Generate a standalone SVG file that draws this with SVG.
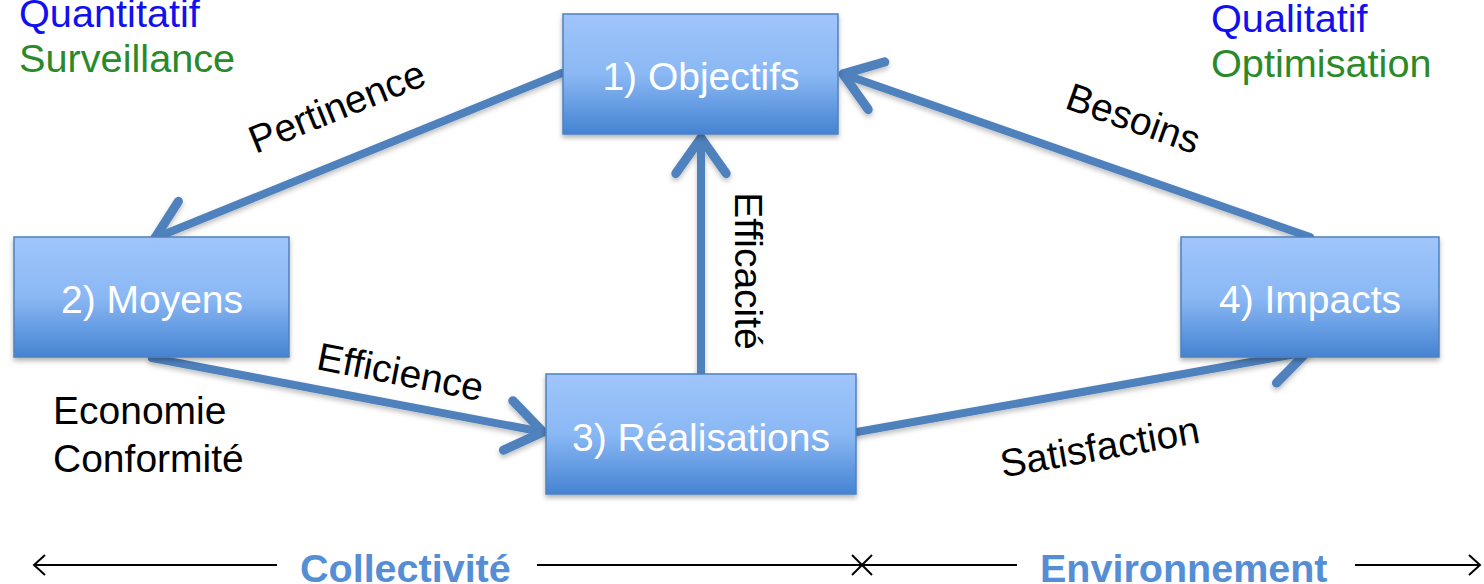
<svg xmlns="http://www.w3.org/2000/svg" width="1484" height="584" viewBox="0 0 1484 584">
<defs>
<linearGradient id="boxg" x1="0" y1="0" x2="0" y2="1">
<stop offset="0" stop-color="#a0c5fb"/>
<stop offset="0.5" stop-color="#8ab8f4"/>
<stop offset="1" stop-color="#4583d2"/>
</linearGradient>
<filter id="sh" x="-10%" y="-10%" width="120%" height="130%">
<feDropShadow dx="0" dy="3" stdDeviation="2.5" flood-color="#000" flood-opacity="0.3"/>
</filter>
<filter id="lsh" filterUnits="userSpaceOnUse" x="0" y="0" width="1484" height="584">
<feDropShadow dx="0" dy="3" stdDeviation="2.5" flood-color="#000" flood-opacity="0.25"/>
</filter>
<marker id="ah" markerUnits="userSpaceOnUse" markerWidth="80" markerHeight="80" viewBox="-45 -35 60 70" refX="0" refY="0" orient="auto" overflow="visible">
<path d="M -31 -22 L 0 0 L -31 22" fill="none" stroke="#4f81bd" stroke-width="8" stroke-linecap="round" stroke-linejoin="round"/>
</marker>
<marker id="bh" markerUnits="userSpaceOnUse" markerWidth="30" markerHeight="30" viewBox="-15 -15 30 30" refX="0" refY="0" orient="auto" overflow="visible">
<path d="M -11 -10 L 0 0 L -11 10" fill="none" stroke="#000" stroke-width="2"/>
</marker>
</defs>
<style>
.box{fill:url(#boxg);stroke:#4f81bd;stroke-width:1.5;filter:url(#sh)}
.bt{font-family:"Liberation Sans",Arial,sans-serif;font-size:39px;fill:#fff;text-anchor:middle}
.lb{font-family:"Liberation Sans",Arial,sans-serif;font-size:39px;fill:#000}
.conn{fill:none;stroke:#4f81bd;stroke-width:8;stroke-linecap:round;marker-end:url(#ah)}
.tl{fill:none;stroke:#000;stroke-width:2}
.bot{font-family:"Liberation Sans",Arial,sans-serif;font-size:39.5px;font-weight:bold;fill:#558ed5}
.blue{font-family:"Liberation Sans",Arial,sans-serif;font-size:39.7px;fill:#1010f0}
.green{font-family:"Liberation Sans",Arial,sans-serif;font-size:39.7px;fill:#2a8a2a}
</style>
<rect width="1484" height="584" fill="#fff"/>
<g id="connectors" filter="url(#lsh)">
<line class="conn" x1="562" y1="73" x2="155" y2="238"/>
<line class="conn" x1="152" y1="358" x2="543" y2="432"/>
<line class="conn" x1="701" y1="374" x2="701" y2="138"/>
<line class="conn" x1="857" y1="432" x2="1307" y2="352"/>
<line class="conn" x1="1310" y1="237" x2="843" y2="74"/>
</g>
<g id="n1"><rect class="box" x="563" y="14" width="275" height="120"/><text class="bt" x="701" y="90">1) Objectifs</text></g>
<g id="n2"><rect class="box" x="14" y="237" width="275" height="120"/><text class="bt" x="152" y="313">2) Moyens</text></g>
<g id="n3"><rect class="box" x="546" y="374" width="310" height="120"/><text class="bt" x="701" y="451">3) Réalisations</text></g>
<g id="n4"><rect class="box" x="1181" y="237" width="258" height="120"/><text class="bt" x="1310" y="313">4) Impacts</text></g>
<g id="labels">
<text class="lb" text-anchor="middle" transform="translate(342,119) rotate(-22)">Pertinence</text>
<text class="lb" text-anchor="middle" transform="translate(398,385) rotate(11)">Efficience</text>
<text class="lb" text-anchor="middle" transform="translate(735,271) rotate(90)">Efficacité</text>
<text class="lb" text-anchor="middle" transform="translate(1129,131) rotate(19.5)">Besoins</text>
<text class="lb" text-anchor="middle" transform="translate(1102,460) rotate(-10)">Satisfaction</text>
<text class="lb" x="53" y="424">Economie</text>
<text class="lb" x="53" y="472">Conformité</text>
<text class="blue" x="19" y="27">Quantitatif</text>
<text class="green" x="19" y="72">Surveillance</text>
<text class="blue" x="1211" y="32">Qualitatif</text>
<text class="green" x="1211" y="77">Optimisation</text>
</g>
<g id="timeline">
<line class="tl" x1="277" y1="565" x2="34" y2="565" marker-end="url(#bh)"/>
<line class="tl" x1="537" y1="565" x2="1017" y2="565"/>
<line class="tl" x1="852" y1="555" x2="872" y2="575"/>
<line class="tl" x1="852" y1="575" x2="872" y2="555"/>
<line class="tl" x1="1355" y1="565" x2="1480" y2="565" marker-end="url(#bh)"/>
<text class="bot" x="300" y="582">Collectivité</text>
<text class="bot" x="1040" y="582">Environnement</text>
</g>
</svg>
